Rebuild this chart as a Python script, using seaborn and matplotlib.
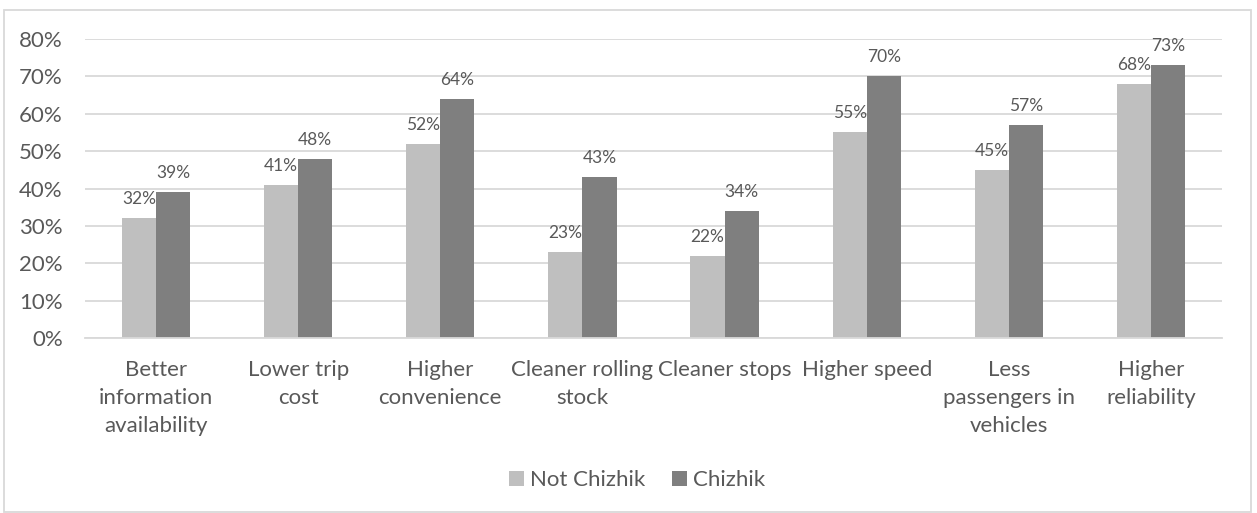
import matplotlib
matplotlib.use("Agg")
import matplotlib.pyplot as plt
import matplotlib.patches as mpatches
from matplotlib.ticker import PercentFormatter, MultipleLocator
import pandas as pd
import seaborn as sns

# Survey shares of respondents naming each improvement
categories = [
    "Better\ninformation\navailability",
    "Lower trip\ncost",
    "Higher\nconvenience",
    "Cleaner rolling\nstock",
    "Cleaner stops",
    "Higher speed",
    "Less\npassengers in\nvehicles",
    "Higher\nreliability",
]
not_chizhik = [0.32, 0.41, 0.52, 0.23, 0.22, 0.55, 0.45, 0.68]
chizhik = [0.39, 0.48, 0.64, 0.43, 0.34, 0.70, 0.57, 0.73]
series_names = ["Not Chizhik", "Chizhik"]
series_colors = ["#bfbfbf", "#7f7f7f"]

df = pd.DataFrame({
    "category": categories * 2,
    "share": not_chizhik + chizhik,
    "group": [series_names[0]] * len(categories) + [series_names[1]] * len(categories),
})

sns.set_theme(style="white")
plt.rcParams["font.family"] = ["Lato", "DejaVu Sans"]
text_color = "#595959"
grid_color = "#d9d9d9"

fig = plt.figure(figsize=(12.57, 5.13), dpi=100)
ax = fig.add_axes([0.0676, 0.341, 0.9046, 0.583])

sns.barplot(
    data=df, x="category", y="share", hue="group",
    hue_order=series_names, order=categories,
    palette=series_colors, saturation=1, width=0.48, gap=0,
    linewidth=0, ax=ax, legend=False,
)

ax.set_ylim(0, 0.8)
ax.set_xlim(-0.5, len(categories) - 0.5)
ax.yaxis.set_major_locator(MultipleLocator(0.1))
ax.yaxis.set_major_formatter(PercentFormatter(1.0, decimals=0))
ax.grid(axis="y", color=grid_color, linewidth=1.3)
ax.set_axisbelow(True)
for side in ["top", "right", "left"]:
    ax.spines[side].set_visible(False)
ax.spines["bottom"].set_color(grid_color)
ax.spines["bottom"].set_linewidth(1.3)
ax.set_xlabel("")
ax.set_ylabel("")
ax.tick_params(axis="y", length=0, pad=16, labelsize=16, labelcolor=text_color)
ax.tick_params(axis="x", length=0, pad=16, labelsize=16, labelcolor=text_color)
for lbl in ax.get_xticklabels():
    lbl.set_linespacing(1.5)

for container in ax.containers:
    ax.bar_label(container, labels=[f"{v*100:.0f}%" for v in container.datavalues],
                 padding=8, fontsize=12.5, color=text_color)

handles = [mpatches.Rectangle((0, 0), 1, 1, facecolor=c, edgecolor="none") for c in series_colors]
fig.legend(handles, series_names, loc="center", bbox_to_anchor=(0.507, 0.064),
           ncol=2, frameon=False, fontsize=16, labelcolor=text_color,
           handlelength=0.65, handleheight=0.65, handletextpad=0.3, columnspacing=1.2)

# Chart border
fig.patches.append(mpatches.Rectangle((4 / 1257, 1 / 513), 1247 / 1257, 502 / 513,
                                      transform=fig.transFigure, fill=False,
                                      edgecolor="#d9d9d9", linewidth=1.3))

fig.savefig("out.png", dpi=100)
